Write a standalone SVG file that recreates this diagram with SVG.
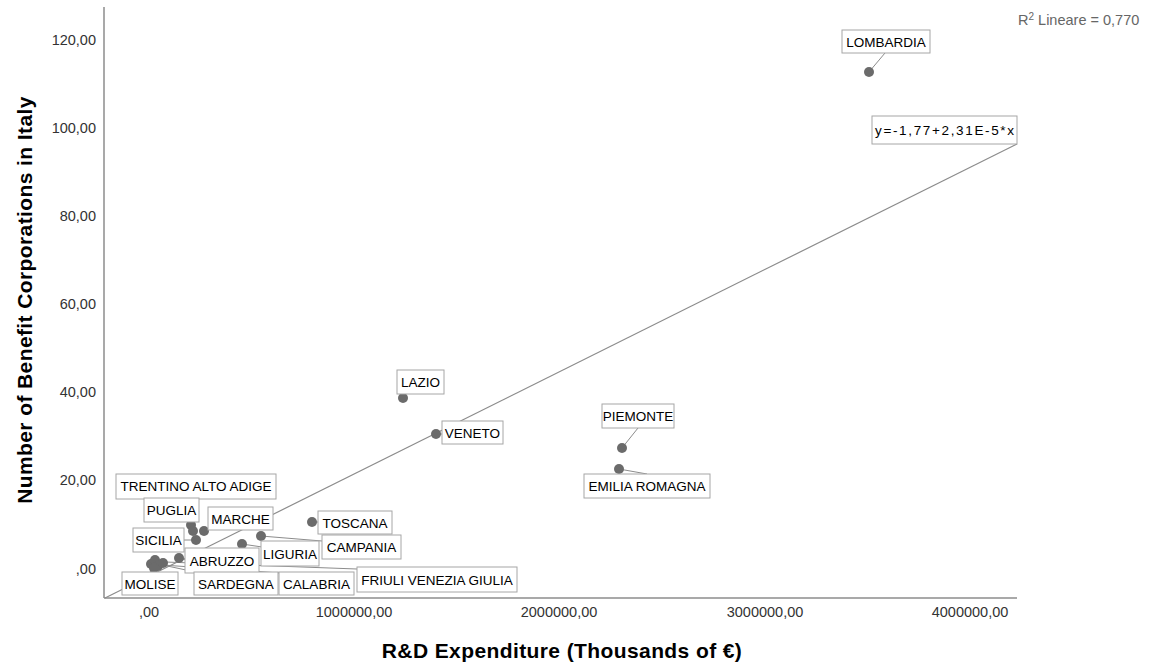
<svg xmlns="http://www.w3.org/2000/svg" width="1152" height="667" viewBox="0 0 1152 667">
<style>
.bg{fill:#fff}
.axis{stroke:#8c8c8c;stroke-width:1.5;fill:none}
.fit{stroke:#8c8c8c;stroke-width:1.2;fill:none}
.lead{stroke:#8c8c8c;stroke-width:1;fill:none}
.pt{fill:#6b6b6b}
.box{fill:#fff;stroke:#a6a6a6;stroke-width:1}
.lbl{font-family:"Liberation Sans",Arial,sans-serif;font-size:13.5px;fill:#000}
.tick{font-family:"Liberation Sans",Arial,sans-serif;font-size:14.5px;fill:#333}
.title{font-family:"Liberation Sans",Arial,sans-serif;font-size:21px;font-weight:bold;fill:#000;letter-spacing:0.4px}
.r2{font-family:"Liberation Sans",Arial,sans-serif;font-size:14.5px;fill:#666}
</style>
<rect class="bg" x="0" y="0" width="1152" height="667"/>
<g id="axes">
<line class="axis" x1="104" y1="7" x2="104" y2="598"/>
<line class="axis" x1="104" y1="598" x2="1017" y2="598"/>
<g class="tick" text-anchor="end">
<text x="96" y="45">120,00</text>
<text x="96" y="133">100,00</text>
<text x="96" y="221">80,00</text>
<text x="96" y="309">60,00</text>
<text x="96" y="397">40,00</text>
<text x="96" y="485">20,00</text>
<text x="96" y="574">,00</text>
</g>
<g class="tick" text-anchor="middle">
<text x="149" y="617">,00</text>
<text x="354" y="617">1000000,00</text>
<text x="559" y="617">2000000,00</text>
<text x="765" y="617">3000000,00</text>
<text x="970" y="617">4000000,00</text>
</g>
<text class="title" x="562" y="658" text-anchor="middle">R&amp;D Expenditure (Thousands of €)</text>
<text class="title" transform="translate(32,300) rotate(-90)" text-anchor="middle">Number of Benefit Corporations in Italy</text>
<text class="r2" x="1018" y="25">R<tspan dy="-5" font-size="10">2</tspan><tspan dy="5"> Lineare = 0,770</tspan></text>
</g>
<g id="connectors">
<line class="fit" x1="105" y1="598" x2="1017" y2="144"/>
<line class="lead" x1="869" y1="72" x2="885" y2="53"/>
<line class="lead" x1="622" y1="448" x2="638" y2="428"/>
<line class="lead" x1="619" y1="469" x2="647" y2="474"/>
<line class="lead" x1="436" y1="434" x2="442" y2="434"/>
<line class="lead" x1="403" y1="398" x2="403" y2="394"/>
<line class="lead" x1="312" y1="522" x2="318" y2="522"/>
<line class="lead" x1="261" y1="536" x2="322" y2="541"/>
<line class="lead" x1="242" y1="544" x2="262" y2="547"/>
<line class="lead" x1="204" y1="531" x2="209" y2="528"/>
<line class="lead" x1="196" y1="540" x2="184" y2="540"/>
<line class="lead" x1="179" y1="558" x2="186" y2="560"/>
<line class="lead" x1="165" y1="562" x2="357" y2="569"/>
<line class="lead" x1="162" y1="565" x2="280" y2="573"/>
<line class="lead" x1="158" y1="564" x2="200" y2="573"/>
<line class="lead" x1="152" y1="566" x2="150" y2="573"/>
<line class="lead" x1="193" y1="531" x2="190" y2="522"/>
<line class="lead" x1="191" y1="525" x2="190" y2="499"/>
</g>
<g id="points">
<circle class="pt" cx="869" cy="72" r="5"/>
<circle class="pt" cx="403" cy="398" r="5"/>
<circle class="pt" cx="436" cy="434" r="5"/>
<circle class="pt" cx="622" cy="448" r="5"/>
<circle class="pt" cx="619" cy="469" r="5"/>
<circle class="pt" cx="312" cy="522" r="5"/>
<circle class="pt" cx="261" cy="536" r="5"/>
<circle class="pt" cx="242" cy="544" r="5"/>
<circle class="pt" cx="204" cy="531" r="5"/>
<circle class="pt" cx="191" cy="525" r="5"/>
<circle class="pt" cx="193" cy="531" r="5"/>
<circle class="pt" cx="196" cy="540" r="5"/>
<circle class="pt" cx="179" cy="558" r="5"/>
<circle class="pt" cx="151" cy="564" r="5"/>
<circle class="pt" cx="155" cy="560" r="5"/>
<circle class="pt" cx="158" cy="566" r="5"/>
<circle class="pt" cx="163" cy="563" r="5"/>
<circle class="pt" cx="154" cy="568" r="5"/>
</g>
<g id="label-lombardia"><rect class="box" x="842" y="30" width="88" height="23"/><text class="lbl" x="886" y="47" text-anchor="middle">LOMBARDIA</text></g>
<g id="label-equation"><rect class="box" x="872" y="116" width="145" height="28"/><text class="lbl" x="944.5" y="135" text-anchor="middle" font-size="15" textLength="139" lengthAdjust="spacing">y=-1,77+2,31E-5*x</text></g>
<g id="label-lazio"><rect class="box" x="397" y="370" width="47" height="24"/><text class="lbl" x="420.5" y="387" text-anchor="middle">LAZIO</text></g>
<g id="label-veneto"><rect class="box" x="442" y="421" width="61" height="23"/><text class="lbl" x="472.5" y="438" text-anchor="middle">VENETO</text></g>
<g id="label-piemonte"><rect class="box" x="602" y="404" width="72" height="24"/><text class="lbl" x="638" y="421" text-anchor="middle">PIEMONTE</text></g>
<g id="label-emilia"><rect class="box" x="584" y="474" width="126" height="24"/><text class="lbl" x="647" y="491" text-anchor="middle">EMILIA ROMAGNA</text></g>
<g id="label-trentino"><rect class="box" x="116" y="474" width="160" height="25"/><text class="lbl" x="196" y="491" text-anchor="middle">TRENTINO ALTO ADIGE</text></g>
<g id="label-puglia"><rect class="box" x="144" y="498" width="55" height="24"/><text class="lbl" x="171.5" y="515" text-anchor="middle">PUGLIA</text></g>
<g id="label-marche"><rect class="box" x="208" y="507" width="65" height="23"/><text class="lbl" x="240.5" y="524" text-anchor="middle">MARCHE</text></g>
<g id="label-sicilia"><rect class="box" x="133" y="528" width="51" height="24"/><text class="lbl" x="158.5" y="545" text-anchor="middle">SICILIA</text></g>
<g id="label-toscana"><rect class="box" x="318" y="511" width="74" height="23"/><text class="lbl" x="355" y="528" text-anchor="middle">TOSCANA</text></g>
<g id="label-campania"><rect class="box" x="322" y="535" width="79" height="24"/><text class="lbl" x="361.5" y="552" text-anchor="middle">CAMPANIA</text></g>
<g id="label-liguria"><rect class="box" x="261" y="541" width="58" height="25"/><text class="lbl" x="290" y="559" text-anchor="middle">LIGURIA</text></g>
<g id="label-abruzzo"><rect class="box" x="185" y="548" width="74" height="25"/><text class="lbl" x="222" y="566" text-anchor="middle">ABRUZZO</text></g>
<g id="label-friuli"><rect class="box" x="357" y="567" width="160" height="25"/><text class="lbl" x="437" y="585" text-anchor="middle">FRIULI VENEZIA GIULIA</text></g>
<g id="label-molise"><rect class="box" x="122" y="572" width="56" height="23"/><text class="lbl" x="150" y="589" text-anchor="middle">MOLISE</text></g>
<g id="label-sardegna"><rect class="box" x="194" y="572" width="84" height="23"/><text class="lbl" x="236" y="589" text-anchor="middle">SARDEGNA</text></g>
<g id="label-calabria"><rect class="box" x="279" y="572" width="75" height="23"/><text class="lbl" x="316.5" y="589" text-anchor="middle">CALABRIA</text></g>
</svg>
